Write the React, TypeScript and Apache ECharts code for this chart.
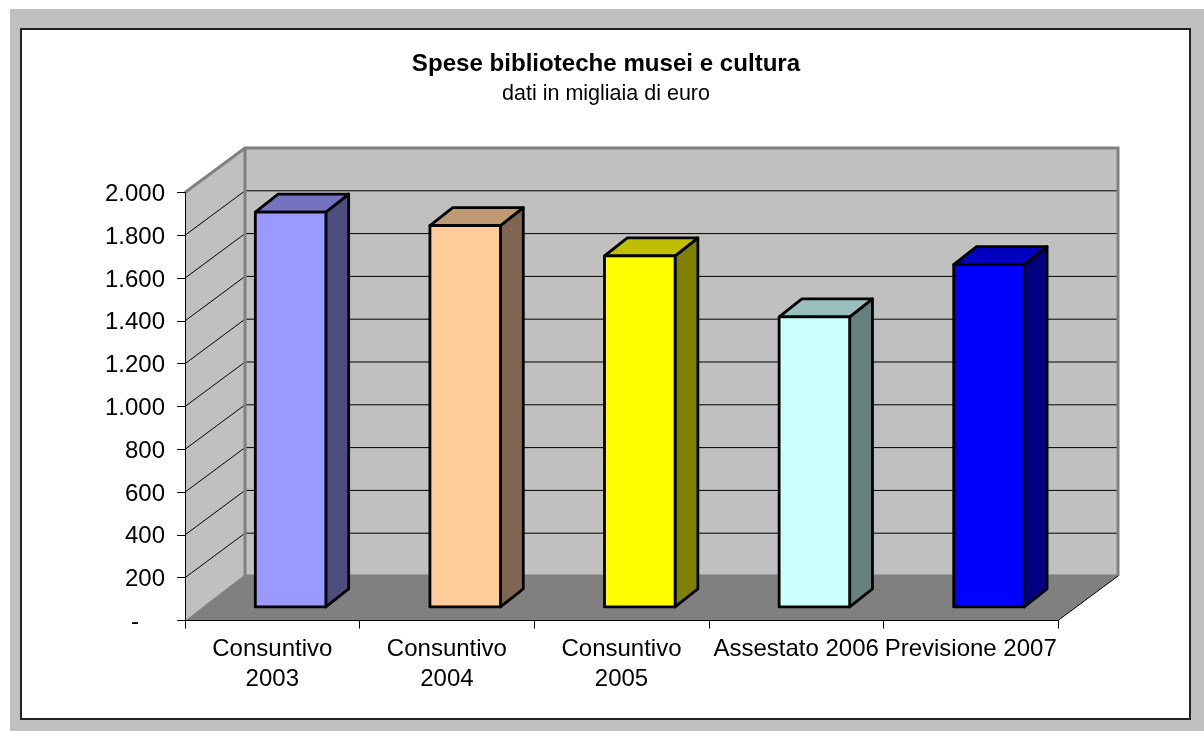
import React, { useEffect, useRef } from "react";
import * as echarts from "echarts";

const titleText = "Spese biblioteche musei e cultura";
const subtitleText = "dati in migliaia di euro";
const categories = ["Consuntivo\n2003", "Consuntivo\n2004", "Consuntivo\n2005", "Assestato 2006", "Previsione 2007"];
const values = [1845, 1782, 1640, 1355, 1600];
const yTicks = [200, 400, 600, 800, 1000, 1200, 1400, 1600, 1800];
const frontColors = ["#9999FF", "#FFCC99", "#FFFF00", "#CCFFFF", "#0000FF"];
const topColors = ["#7373BF", "#BF9973", "#BFBF00", "#99BFBF", "#0000BF"];
const sideColors = ["#4D4D80", "#806650", "#808000", "#668080", "#000080"];

const DEPTH_X = 60;
const DEPTH_Y = 44.5;
const FLOOR_EXTRA = 1.5;
const BAR_DX = 22.8;
const BAR_DY = 18;
const FONT = '"Liberation Sans", Arial, sans-serif';

type Pt = [number, number];
const shift = (p: Pt, k: number): Pt => [p[0] + DEPTH_X * k, p[1] - DEPTH_Y * k];
const barBack = (p: Pt): Pt => [p[0] + BAR_DX, p[1] - BAR_DY];

function renderWalls(params: any, api: any) {
  const cs = params.coordSys;
  const l = cs.x, r = cs.x + cs.width, t = cs.y, b = cs.y + cs.height;
  const children: any[] = [];
  const poly = (points: Pt[], fill: string) => children.push({ type: "polygon", shape: { points }, style: { fill, stroke: "none" } });
  poly([[l, t], shift([l, t], 1), shift([l, b], 1), [l, b]], "#C0C0C0");
  poly([shift([l, t], 1), shift([r, t], 1), shift([r, b], 1), shift([l, b], 1)], "#C0C0C0");
  yTicks.forEach((v) => {
    const y = api.coord([0, v])[1];
    children.push({
      type: "polyline",
      shape: { points: [[l, y], shift([l, y], 1), shift([r, y], 1)] },
      style: { fill: "none", stroke: "#000", lineWidth: 1 },
    });
  });
  children.push({
    type: "polyline",
    shape: { points: [[l, t], shift([l, t], 1), shift([r, t], 1), shift([r, b], 1)] },
    style: { fill: "none", stroke: "#808080", lineWidth: 3 },
  });
  children.push({
    type: "line",
    shape: { x1: l + DEPTH_X, y1: t - DEPTH_Y, x2: l + DEPTH_X, y2: b - DEPTH_Y },
    style: { stroke: "#808080", lineWidth: 3 },
  });
  const backL = shift([l, b], 1);
  const backR = shift([r, b], 1);
  poly([[l, b], [backL[0], backL[1] - FLOOR_EXTRA], [backR[0], backR[1] - FLOOR_EXTRA], backR, [r, b]], "#808080");
  children.push({
    type: "line",
    shape: { x1: r, y1: b, x2: r + DEPTH_X, y2: b - DEPTH_Y },
    style: { stroke: "#000", lineWidth: 1 },
  });
  return { type: "group", children };
}

function renderBar(params: any, api: any) {
  const i = api.value(0);
  const v = api.value(1);
  const band = api.size([1, 0])[0];
  const w = band * 0.404;
  const cx = api.coord([i, 0])[0];
  const base = api.coord([i, 0])[1];
  const top = api.coord([i, v])[1];
  const near = 0.305;
  const a: Pt = shift([cx - w / 2, top], near);
  const bb: Pt = shift([cx + w / 2, top], near);
  const c: Pt = shift([cx + w / 2, base], near);
  const d: Pt = shift([cx - w / 2, base], near);
  const style = (fill: string) => ({ fill, stroke: "#000", lineWidth: 2.8, lineJoin: "round" });
  return {
    type: "group",
    children: [
      { type: "polygon", shape: { points: [bb, barBack(bb), barBack(c), c] }, style: style(sideColors[i]) },
      { type: "polygon", shape: { points: [a, barBack(a), barBack(bb), bb] }, style: style(topColors[i]) },
      { type: "polygon", shape: { points: [a, bb, c, d] }, style: style(frontColors[i]) },
    ],
  };
}

export default function App() {
  const ref = useRef<HTMLDivElement>(null);
  useEffect(() => {
    const chart = echarts.init(ref.current!, undefined, { renderer: "svg" });
    chart.setOption({
      animation: false,
      title: {
        text: titleText,
        subtext: subtitleText,
        left: 601,
        top: 45,
        textAlign: "center",
        itemGap: 8,
        textStyle: { fontFamily: FONT, fontSize: 24.1, fontWeight: "bold", color: "#000" },
        subtextStyle: { fontFamily: FONT, fontSize: 21.5, color: "#000" },
      },
      graphic: [
        { type: "rect", z: -10, silent: true, shape: { x: 10, y: 9, width: 1194, height: 722 }, style: { fill: "#C0C0C0" } },
        { type: "rect", z: -9, silent: true, shape: { x: 21, y: 29, width: 1169, height: 690 }, style: { fill: "#FFF", stroke: "#222", lineWidth: 2 } },
      ],
      grid: { left: 185, right: 1204 - 1058, top: 192.5, bottom: 731 - 620.5, containLabel: false },
      xAxis: {
        type: "category",
        data: categories,
        z: 5,
        axisLine: { lineStyle: { color: "#000", width: 1 } },
        axisTick: { show: true, length: 8, alignWithLabel: false, lineStyle: { color: "#000" } },
        axisLabel: { interval: 0, margin: 12, fontFamily: FONT, fontSize: 24, lineHeight: 30, color: "#000", hideOverlap: false },
        splitLine: { show: false },
      },
      yAxis: {
        type: "value",
        min: 0,
        max: 2000,
        interval: 200,
        z: 5,
        axisLine: { show: true, lineStyle: { color: "#000", width: 1 } },
        axisTick: { show: true, length: 8, lineStyle: { color: "#000" } },
        axisLabel: {
          margin: 20,
          fontFamily: FONT,
          fontSize: 24,
          color: "#000",
          formatter: (v: number) => (v === 0 ? "{dash|-}" : v.toLocaleString("it-IT", { useGrouping: "always" } as any).replace(/\s/g, ".")),
          rich: { dash: { fontFamily: FONT, fontSize: 24, color: "#000", padding: [0, 26, 0, 0] } },
        },
        splitLine: { show: false },
      },
      series: [
        { type: "custom", silent: true, z: 1, renderItem: renderWalls, data: [[0, 0]] },
        { type: "custom", silent: true, z: 3, renderItem: renderBar, data: values.map((v, i) => [i, v]) },
      ],
    });
    return () => chart.dispose();
  }, []);
  return <div ref={ref} style={{ position: "fixed", left: 0, top: 0, width: 1204, height: 731 }} />;
}
